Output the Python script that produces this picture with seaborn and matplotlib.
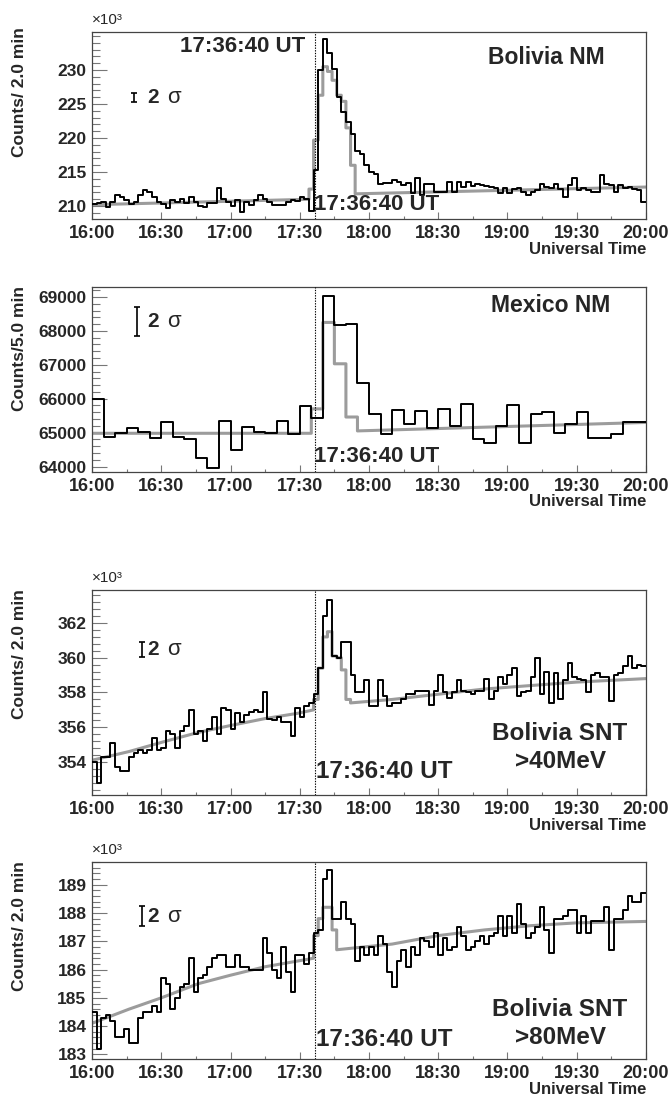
import matplotlib
matplotlib.use("Agg")
import matplotlib.pyplot as plt
import numpy as np
import pandas as pd
import seaborn as sns
from matplotlib.ticker import MultipleLocator, FixedLocator

sns.set_theme(style="white")
plt.rcParams["font.family"] = ["Liberation Sans", "DejaVu Sans"]

# ---------------- data ----------------
time_ticks = [0, 30, 60, 90, 120, 150, 180, 210, 240]
time_labels = ["16:00", "16:30", "17:00", "17:30", "18:00", "18:30", "19:00", "19:30", "20:00"]
onset_min = 96.67
onset_label = "17:36:40 UT"

# Bolivia NM, 2-min bins (x10^3 counts)
bol_nm = [
    210.3, 210.5, 210.6, 209.9, 210.6, 211.6, 211.4, 210.9, 210.3, 210.6,
    211.6, 212.3, 212.1, 211.4, 210.6, 210.3, 209.7, 210.9, 210.6, 211.1,
    210.4, 211.4, 210.6, 210.0, 209.8, 210.5, 210.5, 212.6, 211.0, 210.6,
    210.0, 210.9, 209.2, 210.6, 210.1, 210.9, 211.6, 211.1, 210.6, 210.1,
    210.1, 210.1, 210.6, 210.9, 210.7, 211.4, 211.1, 209.3,
    215.3, 230.0, 234.5, 232.5, 230.2, 226.0, 223.8, 222.4, 220.6, 218.1,
    217.6, 216.1, 215.0, 214.7, 213.3,
    213.4, 213.4, 213.8, 213.6, 213.1, 213.4, 211.9, 214.1, 211.6, 213.3,
    213.3, 212.1, 212.1, 212.0, 213.6, 212.0, 213.6, 212.8, 213.6, 212.9,
    213.3, 213.1, 212.9, 212.8, 212.6, 211.9, 212.6, 211.9, 212.5, 212.6,
    212.1, 211.6, 212.0, 212.4, 213.2, 212.8, 212.6, 213.3, 212.5, 211.4,
    213.1, 214.1, 212.4, 212.6, 212.4, 212.1, 212.1, 214.6, 213.3, 213.1,
    212.1, 213.1, 212.7, 212.8, 212.5, 212.4, 210.6,
]
bol_nm_fit_t = [0, 94, 94, 96, 96, 98, 98, 100, 100, 102, 102, 104, 104, 106, 106,
                108, 108, 110, 110, 112, 112, 114, 114, 240]
bol_nm_fit_v = [210.2, 211.0, 212.5, 212.5, 219.7, 219.7, 226.3, 226.3, 230.5, 230.5,
                229.8, 229.8, 228.5, 228.5, 226.3, 226.3, 225.4, 225.4, 221.5, 221.5,
                216.0, 216.0, 211.8, 212.8]

# Mexico NM, 5-min bins
mex_nm = [
    66000, 64880, 65000, 65130, 65030, 64850, 65300, 64870, 64800, 64250,
    63950, 65330, 64480, 65180, 65030, 65000, 65330, 64970, 65780, 65420,
    69020, 68160, 68200, 66460, 65550, 64950, 65670, 65250, 65630, 65150,
    65700, 65200, 65830, 64800, 64700, 65200, 65820, 64700, 65550, 65620,
    65000, 65250, 65600, 64830, 64830, 64950, 65300, 65300,
]
mex_nm_fit_t = [0, 95, 95, 100, 100, 105, 105, 110, 110, 115, 115, 240]
mex_nm_fit_v = [64980, 64980, 65700, 65700, 68250, 68250, 67030, 67030, 65460, 65460, 65050, 65300]

# Bolivia SNT >40 MeV, 2-min bins (x10^3)
snt40 = [
    354.0, 352.8, 354.3, 354.3, 355.1, 353.7, 353.5, 353.5, 354.3, 354.5,
    354.7, 354.5, 354.7, 355.4, 354.7, 354.8, 355.8, 355.6, 354.8, 355.8,
    356.1, 357.0, 355.6, 355.8, 355.2, 355.9, 356.6, 355.6, 357.1, 357.0,
    355.9, 356.8, 356.3, 356.7, 356.9, 357.0, 356.9, 358.0, 356.5, 356.4,
    356.6, 356.3, 356.3, 355.5, 357.1, 356.6, 357.2, 357.4, 357.9,
    359.4, 362.4, 363.3, 360.1, 360.0, 360.9, 360.9, 359.0, 358.0, 358.0,
    358.7, 357.2, 357.2, 358.7, 357.8, 357.2, 357.4, 357.4, 357.6, 357.9,
    357.9, 358.1, 358.1, 358.1, 357.3, 358.1, 359.0, 358.0, 357.7, 358.0,
    358.7, 358.1, 358.0, 357.9, 358.1, 358.1, 358.8, 357.6, 358.1, 358.9,
    358.5, 359.0, 359.4, 357.8, 358.0, 358.1, 358.9, 360.0, 357.9, 359.2,
    357.4, 359.1, 357.6, 358.7, 359.7, 358.9, 358.8, 358.7, 358.0, 359.0,
    359.1, 358.9, 358.9, 357.5, 359.0, 359.1, 359.5, 360.1, 359.4, 359.6,
    359.5,
]
snt40_fit_t = [0, 16, 32, 46, 60, 75, 89, 96, 96, 98, 98, 100, 100, 102, 102, 104,
               104, 106, 106, 108, 108, 110, 110, 112, 112, 130, 150, 170, 190, 210, 240]
snt40_fit_v = [354.1, 354.6, 355.2, 355.7, 356.1, 356.5, 356.8, 357.0, 357.6, 357.6,
               359.4, 359.4, 361.2, 361.2, 361.5, 361.5, 360.1, 360.1, 360.0, 360.0,
               359.3, 359.3, 357.6, 357.6, 357.4, 357.6, 357.9, 358.2, 358.4, 358.6, 358.8]

# Bolivia SNT >80 MeV, 2-min bins (x10^3)
snt80 = [
    184.5, 183.2, 184.3, 184.4, 184.2, 183.6, 183.6, 183.9, 183.4, 183.4,
    184.3, 184.5, 184.5, 184.7, 184.5, 185.7, 185.5, 184.6, 185.0, 185.4,
    185.5, 186.4, 185.2, 185.7, 185.8, 186.1, 186.4, 186.5, 186.5, 186.1,
    186.1, 186.5, 186.1, 186.1, 186.0, 186.0, 186.0, 187.1, 186.6, 186.0,
    185.7, 186.8, 185.9, 185.2, 186.5, 186.5, 186.2, 186.6, 187.3, 187.4,
    189.2, 189.5, 187.8, 187.8, 188.4, 187.8, 187.6, 186.3, 186.8, 186.5,
    186.8, 186.5, 187.2, 186.9, 185.9, 185.4, 186.3, 186.7, 186.1, 186.8,
    186.5, 187.1, 187.0, 186.8, 187.3, 186.5, 187.1, 186.7, 186.8, 187.5,
    187.2, 186.7, 186.8, 187.0, 187.2, 186.9, 187.2, 187.3, 187.9, 187.2,
    187.9, 187.3, 188.3, 187.6, 187.1, 187.3, 187.5, 188.2, 187.4, 186.6,
    187.8, 187.8, 187.9, 188.1, 188.1, 187.3, 187.9, 187.3, 187.7, 187.7,
    187.7, 188.2, 186.7, 187.8, 187.8, 188.1, 188.6, 188.4, 188.4, 188.7,
]
snt80_fit_t = [0, 16, 30, 46, 60, 75, 89, 96, 96, 98, 98, 100, 100, 104, 104, 106,
               106, 130, 150, 170, 190, 210, 240]
snt80_fit_v = [184.1, 184.6, 185.0, 185.5, 185.8, 186.1, 186.3, 186.4, 187.2, 187.2,
               187.8, 187.8, 188.2, 188.2, 187.4, 187.4, 186.7, 186.9, 187.2, 187.4,
               187.55, 187.65, 187.7]

# 2-sigma reference bars: (time [min], centre value, half height)
sigma_bar_t = [18.2, 19.5, 21.7, 21.7]
sigma_bar_y = [225.96, 68277, 360.48, 187.88]
sigma_bar_h = [0.66, 428, 0.43, 0.35]

# ---------------- layout ----------------
W, H = 669, 1098
fig = plt.figure(figsize=(W / 100, H / 100), dpi=100)
fig.patch.set_facecolor("white")


def px_ax(top, bottom, left=92, right=646):
    return fig.add_axes([left / W, 1 - bottom / H, (right - left) / W, (bottom - top) / H])


def ftext(x, y, s, **kw):
    fig.text(x / W, 1 - y / H, s, **kw)


def hist_df(vals, bw):
    t = np.arange(len(vals) + 1) * bw
    v = list(vals) + [vals[-1]]
    return pd.DataFrame({"t": t, "v": v})


panels = [
    dict(top=32, bottom=219, vals=bol_nm, bw=2, ft=bol_nm_fit_t, fv=bol_nm_fit_v,
         ylim=(208.1, 235.6), ymaj=[210, 215, 220, 225, 230], ymin=1,
         ylabel="Counts/ 2.0 min", exp=True),
    dict(top=287, bottom=472, vals=mex_nm, bw=5, ft=mex_nm_fit_t, fv=mex_nm_fit_v,
         ylim=(63838, 69295), ymaj=[64000, 65000, 66000, 67000, 68000, 69000], ymin=200,
         ylabel="Counts/5.0 min", exp=False),
    dict(top=590, bottom=795, vals=snt40, bw=2, ft=snt40_fit_t, fv=snt40_fit_v,
         ylim=(352.1, 363.9), ymaj=[354, 356, 358, 360, 362], ymin=0.4,
         ylabel="Counts/ 2.0 min", exp=True),
    dict(top=862, bottom=1059, vals=snt80, bw=2, ft=snt80_fit_t, fv=snt80_fit_v,
         ylim=(182.84, 189.8), ymaj=[183, 184, 185, 186, 187, 188, 189], ymin=0.2,
         ylabel="Counts/ 2.0 min", exp=True),
]

for i, p in enumerate(panels):
    ax = px_ax(p["top"], p["bottom"])
    ax.set_facecolor("white")
    fit = pd.DataFrame({"t": p["ft"], "v": p["fv"]})
    sns.lineplot(data=fit, x="t", y="v", ax=ax, color="#9c9c9c", lw=2.2,
                 estimator=None, sort=False, zorder=2)
    sns.lineplot(data=hist_df(p["vals"], p["bw"]), x="t", y="v", ax=ax,
                 color="black", lw=1.4, drawstyle="steps-post",
                 estimator=None, sort=False, zorder=3)
    ax.axvline(onset_min, color="black", ls=(0, (1.2, 1.2)), lw=0.8, zorder=4)
    ax.errorbar([sigma_bar_t[i]], [sigma_bar_y[i]], yerr=[sigma_bar_h[i]], fmt="none",
                ecolor="black", elinewidth=1.2, capsize=2.5, capthick=1.2)

    ax.set_xlim(0, 240)
    ax.set_ylim(*p["ylim"])
    ax.xaxis.set_major_locator(FixedLocator(time_ticks))
    ax.set_xticklabels(time_labels)
    ax.xaxis.set_minor_locator(MultipleLocator(15))
    ax.yaxis.set_major_locator(FixedLocator(p["ymaj"]))
    ax.set_yticklabels([str(v) for v in p["ymaj"]])
    ax.yaxis.set_minor_locator(MultipleLocator(p["ymin"]))
    ax.tick_params(axis="both", which="both", bottom=True, left=True, top=False,
                   right=False, direction="in", color="#777777", width=0.8)
    ax.tick_params(axis="y", which="major", length=10.5, pad=4, labelsize=12.5)
    ax.tick_params(axis="y", which="minor", length=5.5)
    ax.tick_params(axis="x", which="major", length=5, pad=4, labelsize=13)
    ax.tick_params(axis="x", which="minor", length=2.5)
    for lab in ax.get_xticklabels() + ax.get_yticklabels():
        lab.set_fontweight("bold")
    ax.set_xlabel("")
    ax.set_ylabel("")
    for s in ax.spines.values():
        s.set_visible(True)
        s.set_color("#444444")
        s.set_linewidth(0.9)

    # texts
    ftext(20, p["top"] - 5 if i == 0 else p["top"] - 1, p["ylabel"], rotation=90,
          ha="center", va="top", fontsize=12.5, fontweight="bold")
    if p["exp"]:
        ftext(92, p["top"] - 12, "×10³", ha="left", va="center", fontsize=11)
    ftext(646, p["bottom"] + 30, "Universal Time", ha="right", va="center",
          fontsize=12, fontweight="bold")
    bar_y_px = [97.5, 321.5, 649.5, 917][i]
    ftext(147, bar_y_px, "2", ha="left", va="center", fontsize=15, fontweight="bold")
    ftext(167, bar_y_px, "σ", ha="left", va="center", fontsize=16)

# onset labels
ftext(305, 46, onset_label, ha="right", va="center", fontsize=16, fontweight="bold")
ftext(314, 205, onset_label, ha="left", va="center", fontsize=16, fontweight="bold")
ftext(314, 456, onset_label, ha="left", va="center", fontsize=16, fontweight="bold")
ftext(316, 771, onset_label, ha="left", va="center", fontsize=17.5, fontweight="bold")
ftext(316, 1039, onset_label, ha="left", va="center", fontsize=17.5, fontweight="bold")

# station labels
ftext(546, 57, "Bolivia NM", ha="center", va="center", fontsize=16.5, fontweight="bold")
ftext(551, 305, "Mexico NM", ha="center", va="center", fontsize=16.5, fontweight="bold")
ftext(560, 734, "Bolivia SNT", ha="center", va="center", fontsize=17.5, fontweight="bold")
ftext(560, 762, ">40MeV", ha="center", va="center", fontsize=17.5, fontweight="bold")
ftext(560, 1009, "Bolivia SNT", ha="center", va="center", fontsize=17.5, fontweight="bold")
ftext(560, 1037, ">80MeV", ha="center", va="center", fontsize=17.5, fontweight="bold")

fig.savefig("out.png", dpi=100, facecolor="white")
